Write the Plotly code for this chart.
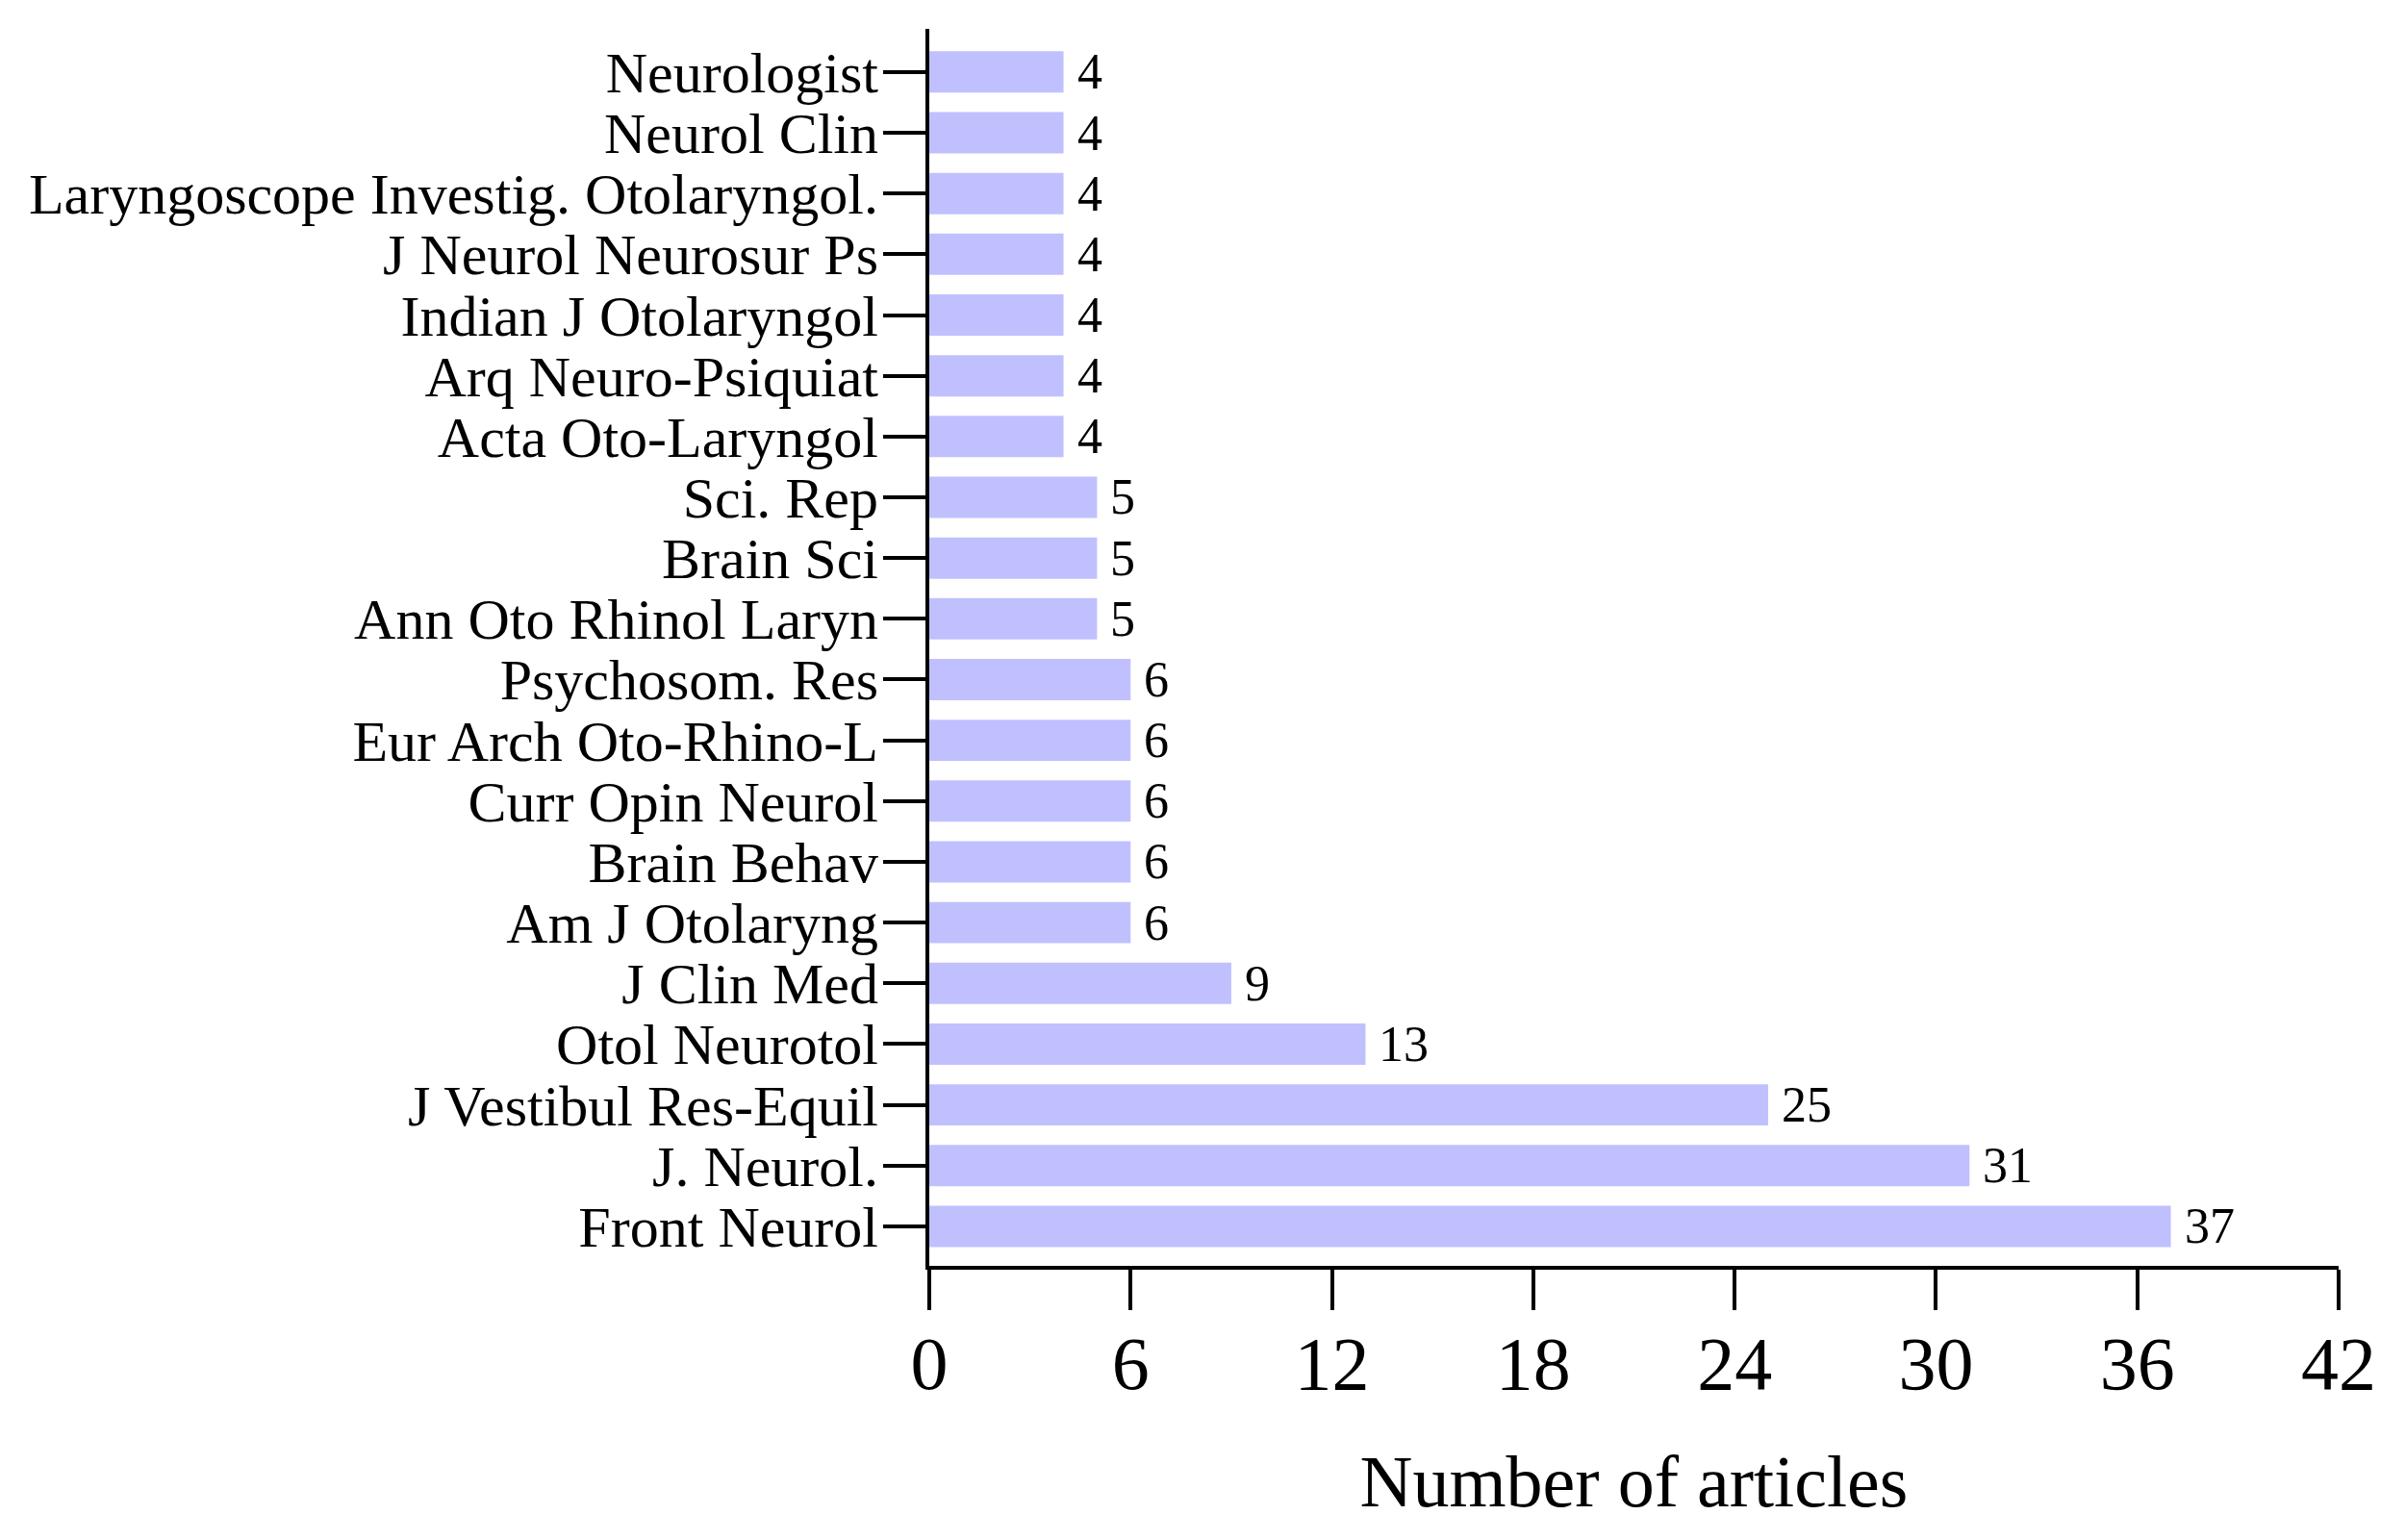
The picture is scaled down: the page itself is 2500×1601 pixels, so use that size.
import plotly.graph_objects as go

journals = ["Front Neurol", "J. Neurol.", "J Vestibul Res-Equil", "Otol Neurotol", "J Clin Med",
            "Am J Otolaryng", "Brain Behav", "Curr Opin Neurol", "Eur Arch Oto-Rhino-L", "Psychosom. Res",
            "Ann Oto Rhinol Laryn", "Brain Sci", "Sci. Rep", "Acta Oto-Laryngol", "Arq Neuro-Psiquiat",
            "Indian J Otolaryngol", "J Neurol Neurosur Ps", "Laryngoscope Investig. Otolaryngol.",
            "Neurol Clin", "Neurologist"]
articles = [37, 31, 25, 13, 9, 6, 6, 6, 6, 6, 5, 5, 5, 4, 4, 4, 4, 4, 4, 4]
x_ticks = [0, 6, 12, 18, 24, 30, 36, 42]

FONT = "Liberation Serif, Times New Roman, serif"

fig = go.Figure()
fig.add_trace(go.Bar(
    x=articles, y=journals, orientation="h",
    marker=dict(color="#C0C0FF", line=dict(width=0)),
    width=0.68, showlegend=False, hoverinfo="x+y",
))

for j, v in zip(journals, articles):
    fig.add_annotation(x=v, y=j, text=str(v), showarrow=False, xanchor="left",
                       xshift=12, yshift=0, font=dict(family=FONT, size=52, color="black"))

fig.update_layout(
    width=2500, height=1601,
    margin=dict(l=958, r=77, t=22, b=293, autoexpand=False),
    paper_bgcolor="white", plot_bgcolor="white",
    font=dict(family=FONT, color="black"),
    bargap=0.32,
)
fig.update_xaxes(
    range=[0, 42], tickmode="array", tickvals=x_ticks, ticktext=[str(t) for t in x_ticks],
    showline=True, linecolor="black", linewidth=4,
    ticks="outside", ticklen=42, tickwidth=4, tickcolor="black",
    showgrid=False, zeroline=False, automargin=False,
    tickfont=dict(family=FONT, size=78, color="black"),
    ticklabelstandoff=-12,
    title=dict(text="Number of articles", font=dict(family=FONT, size=76, color="black"), standoff=54),
)
fig.update_yaxes(
    type="category", categoryorder="array", categoryarray=journals,
    tickmode="array", tickvals=journals, ticktext=journals,
    range=[-0.65, 19.71],
    showline=True, linecolor="black", linewidth=4,
    ticks="outside", ticklen=44, tickwidth=4, tickcolor="black",
    showgrid=False, zeroline=False, automargin=False,
    tickfont=dict(family=FONT, size=60, color="black"),
    ticklabelstandoff=-7,
)

fig.write_html("out.html")
